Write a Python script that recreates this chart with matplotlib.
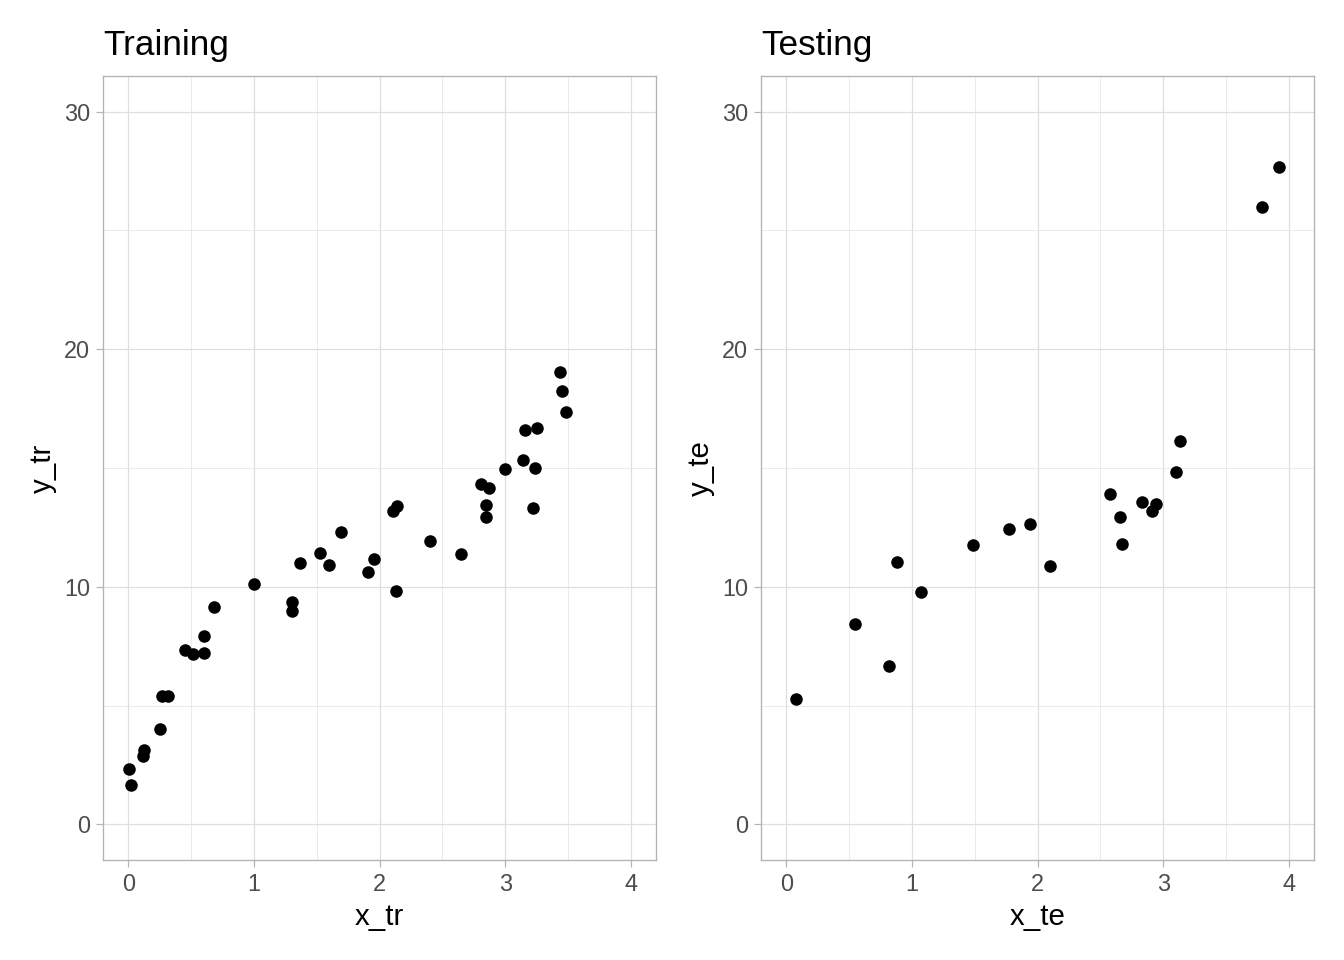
import matplotlib
matplotlib.use("Agg")
import matplotlib.pyplot as plt
import numpy as np

plt.rcParams['font.family'] = ['Liberation Sans', 'DejaVu Sans']

x_tr = [0.01, 0.02, 0.12, 0.13, 0.25, 0.27, 0.32, 0.45, 0.52, 0.60, 0.60, 0.68,
        1.00, 1.30, 1.30, 1.37, 1.53, 1.60, 1.69, 1.91, 1.96, 2.11, 2.14, 2.13,
        2.40, 2.65, 2.81, 2.85, 2.85, 2.87, 3.00, 3.14, 3.16, 3.22, 3.24, 3.25,
        3.44, 3.45, 3.48]
y_tr = [2.31, 1.64, 2.86, 3.15, 4.03, 5.42, 5.42, 7.35, 7.18, 7.94, 7.23, 9.16,
        10.13, 8.99, 9.37, 11.01, 11.43, 10.92, 12.31, 10.63, 11.18, 13.19, 13.40, 9.83,
        11.93, 11.39, 14.33, 13.45, 12.94, 14.16, 14.96, 15.34, 16.60, 13.32, 15.00, 16.68,
        19.03, 18.24, 17.35]

x_te = [0.08, 0.55, 0.82, 0.88, 1.07, 1.49, 1.77, 1.94, 2.10, 2.58, 2.66, 2.67,
        2.83, 2.91, 2.94, 3.10, 3.13, 3.79, 3.92]
y_te = [5.29, 8.45, 6.68, 11.05, 9.79, 11.76, 12.44, 12.65, 10.88, 13.91, 12.94, 11.81,
        13.57, 13.19, 13.49, 14.83, 16.13, 25.97, 27.65]

panels = [("Training", "x_tr", "y_tr", x_tr, y_tr),
          ("Testing", "x_te", "y_te", x_te, y_te)]

x_ticks = [0, 1, 2, 3, 4]
y_ticks = [0, 10, 20, 30]

fig = plt.figure(figsize=(7, 5), dpi=192)
lefts = [103 / 1344, 761 / 1344]
width = (656 - 103) / 1344
bottom = 1 - 860 / 960
height = (860 - 76) / 960

for left, (title, xl, yl, xs, ys) in zip(lefts, panels):
    ax = fig.add_axes([left, bottom, width, height])
    ax.set_xlim(-0.2, 4.2)
    ax.set_ylim(-1.5, 31.5)
    ax.set_xticks(x_ticks)
    ax.set_yticks(y_ticks)
    ax.set_xticks([0.5, 1.5, 2.5, 3.5], minor=True)
    ax.set_yticks([5, 15, 25], minor=True)
    ax.grid(which='major', color='#DEDEDE', linewidth=0.45)
    ax.grid(which='minor', color='#E6E6E6', linewidth=0.3)
    ax.set_axisbelow(True)
    ax.tick_params(which='minor', length=0)
    ax.tick_params(which='major', length=2.75, width=0.45, color='#B3B3B3',
                   labelcolor='#4D4D4D', labelsize=8.8, pad=2.2)
    for s in ax.spines.values():
        s.set_color('#B3B3B3')
        s.set_linewidth(0.5)
    ax.plot(xs, ys, 'o', color='black', markersize=4.7, markeredgewidth=0)
    ax.set_xlabel(xl, fontsize=11, color='black', labelpad=2.5)
    ax.set_ylabel(yl, fontsize=11, color='black', labelpad=2.5)
    ax.set_title(title, loc='left', fontsize=13.2, color='black', pad=7.9)

fig.savefig("out.png", dpi=192)
